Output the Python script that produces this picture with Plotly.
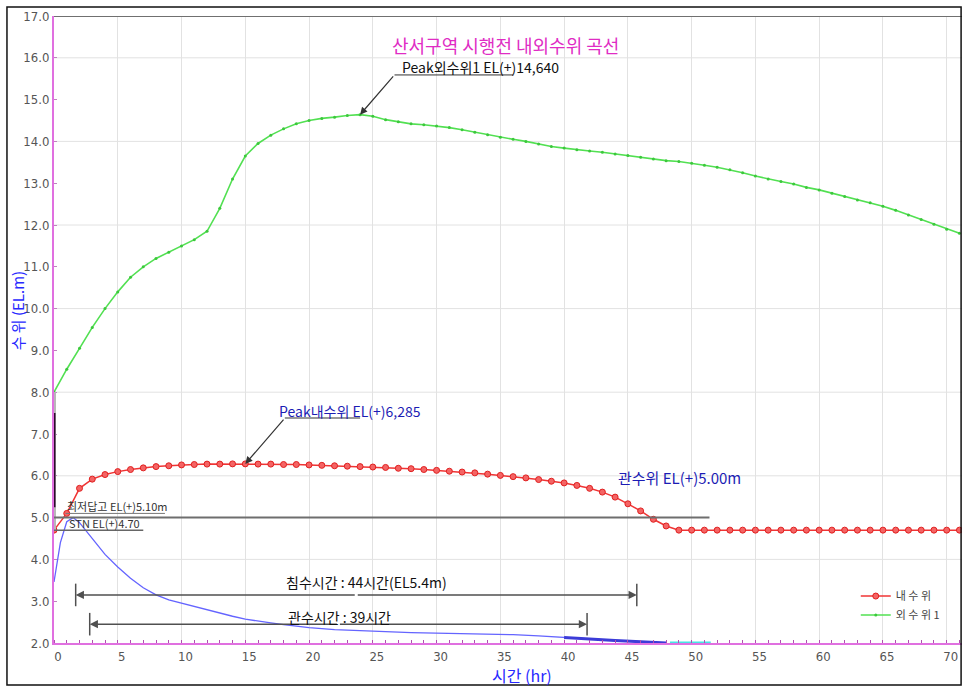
import plotly.graph_objects as go

# ---- data -------------------------------------------------------------
hours = list(range(72))

outer_level = [
    8.00, 8.55, 9.05, 9.55, 10.00, 10.40, 10.75, 11.00, 11.20, 11.35,
    11.50, 11.65, 11.85, 12.40, 13.10, 13.65, 13.95, 14.15, 14.30, 14.42,
    14.50, 14.55, 14.58, 14.62, 14.64, 14.60, 14.52, 14.47, 14.42, 14.40,
    14.37, 14.33, 14.28, 14.22, 14.16, 14.10, 14.05, 14.00, 13.94, 13.88,
    13.84, 13.80, 13.77, 13.74, 13.70, 13.66, 13.62, 13.58, 13.54, 13.52,
    13.48, 13.43, 13.38, 13.32, 13.25, 13.17, 13.10, 13.04, 12.98, 12.90,
    12.84, 12.76, 12.68, 12.60, 12.53, 12.45, 12.35, 12.24, 12.13, 12.02,
    11.90, 11.80,
]

inner_level = [
    4.70, 5.10, 5.70, 5.92, 6.03, 6.10, 6.15, 6.19, 6.22, 6.24,
    6.26, 6.27, 6.28, 6.28, 6.285, 6.285, 6.28, 6.28, 6.27, 6.27,
    6.26, 6.25, 6.24, 6.23, 6.22, 6.21, 6.20, 6.18, 6.17, 6.15,
    6.13, 6.11, 6.09, 6.07, 6.04, 6.01, 5.98, 5.95, 5.91, 5.87,
    5.83, 5.77, 5.70, 5.61, 5.49, 5.33, 5.16, 4.96, 4.80, 4.70,
    4.70, 4.70, 4.70, 4.70, 4.70, 4.70, 4.70, 4.70, 4.70, 4.70,
    4.70, 4.70, 4.70, 4.70, 4.70, 4.70, 4.70, 4.70, 4.70, 4.70,
    4.70, 4.70,
]

drain_hours = [0, 0.5, 1, 1.5, 2, 3, 4, 5, 6, 7, 8, 9, 10, 11, 12, 13, 14,
               15, 16, 17, 18, 19, 20, 22, 24, 26, 28, 30, 32, 34, 36, 38,
               40, 42, 44, 46, 48]
drain_level = [3.46, 4.40, 4.90, 5.00, 4.88, 4.50, 4.12, 3.82, 3.55, 3.32,
               3.15, 3.03, 2.95, 2.88, 2.80, 2.72, 2.64, 2.57, 2.52, 2.48,
               2.44, 2.40, 2.37, 2.32, 2.29, 2.27, 2.25, 2.24, 2.23, 2.22,
               2.20, 2.17, 2.13, 2.09, 2.06, 2.03, 2.00]
drain_tail_from = 40          # heavier stroke from this hour on
floor_hours = [48.3, 51.5]    # level resting on the channel floor
floor_level = [2.0, 2.0]

x_ticks = list(range(0, 71, 5))
y_ticks = list(range(2, 18))
y_ticklabels = [f"{v:.1f}" for v in y_ticks]
y_grid = [4, 6, 8, 10, 12, 14, 16]

peak_outer = (24, 14.640)
peak_inner = (15, 6.285)
gwansu_level = 5.00
gwansu_line_end = 51.4
lowest_paddy = 5.10
stn_level = 4.70
flood_level = 5.4
flood_span = (1.7, 45.7)
gwansu_span = (2.8, 41.8)

X_MAX = 71.2

# ---- figure -----------------------------------------------------------
fig = go.Figure()

fig.add_trace(go.Scatter(
    x=hours, y=inner_level, name="내 수 위", mode="lines+markers",
    line=dict(color="#f03434", width=1.5),
    marker=dict(symbol="circle", size=6, color="#f46464",
                line=dict(color="#e02020", width=1)),
))
fig.add_trace(go.Scatter(
    x=hours, y=outer_level, name="외 수 위 1", mode="lines+markers",
    line=dict(color="#52e052", width=1.6),
    marker=dict(size=3, color="#3cc83c"),
))

# drain-side level (no legend entry)
fig.add_trace(go.Scatter(
    x=drain_hours, y=drain_level, mode="lines", showlegend=False,
    line=dict(color="#6464ff", width=1.3), hoverinfo="skip",
))
tail = [(h, v) for h, v in zip(drain_hours, drain_level) if h >= drain_tail_from]
fig.add_trace(go.Scatter(
    x=[h for h, _ in tail], y=[v for _, v in tail], mode="lines", showlegend=False,
    line=dict(color="#3c3cd8", width=3), hoverinfo="skip",
))
fig.add_trace(go.Scatter(
    x=floor_hours, y=floor_level, mode="lines", showlegend=False,
    line=dict(color="#48e4e4", width=3), hoverinfo="skip",
))

shapes = []
# horizontal grid every 2 m
for g in y_grid:
    shapes.append(dict(type="line", xref="paper", x0=0, x1=1, yref="y", y0=g, y1=g,
                       line=dict(color="#e2e2e2", width=1), layer="below"))
# top border of the plot
shapes.append(dict(type="line", xref="paper", x0=0, x1=1, yref="y", y0=17, y1=17,
                   line=dict(color="#707070", width=2)))
# marks on the left axis
shapes.append(dict(type="line", x0=0, x1=0, y0=stn_level, y1=8.0,
                   line=dict(color="#b8b8b8", width=4)))
shapes.append(dict(type="line", x0=0, x1=0, y0=5.25, y1=7.5,
                   line=dict(color="#2a0a2a", width=3)))
# reference levels
shapes.append(dict(type="line", x0=0, x1=gwansu_line_end, y0=gwansu_level, y1=gwansu_level,
                   line=dict(color="#6e6e6e", width=2)))
shapes.append(dict(type="line", x0=0, x1=7.0, y0=stn_level, y1=stn_level,
                   line=dict(color="#666666", width=1.5)))
shapes.append(dict(type="line", x0=0.9, x1=8.7, y0=lowest_paddy, y1=lowest_paddy,
                   line=dict(color="#777777", width=1)))
# peak leader underlines
shapes.append(dict(type="line", x0=26.7, x1=36.0, y0=15.59, y1=15.59,
                   line=dict(color="#333333", width=1)))
shapes.append(dict(type="line", x0=18.1, x1=24.0, y0=7.38, y1=7.38,
                   line=dict(color="#777777", width=1.5)))
# duration brackets: end ticks
for (s, e), yb in ((flood_span, 3.15), (gwansu_span, 2.45)):
    for xe in (s, e):
        shapes.append(dict(type="line", x0=xe, x1=xe, y0=yb - 0.27, y1=yb + 0.27,
                           line=dict(color="#505050", width=1.5)))
# outer frame
shapes.append(dict(type="rect", xref="paper", yref="paper",
                   x0=-0.0518, x1=0.999, y0=-0.067, y1=1.0144,
                   line=dict(color="#111111", width=1.5)))

kr = "Noto Sans CJK KR, sans-serif"
ann = []
ann.append(dict(text="산서구역 시행전 내외수위 곡선", xref="paper", yref="paper",
                x=0.497, y=0.954, xanchor="center", yanchor="middle", showarrow=False,
                font=dict(family=kr, size=18, color="#e02cc4")))
ann.append(dict(text="시간 (hr)", xref="paper", yref="paper", x=0.515, y=-0.051,
                xanchor="center", yanchor="middle",
                showarrow=False, font=dict(family=kr, size=16, color="#2828ff")))
ann.append(dict(text="수 위 (EL.m)", xref="paper", yref="paper", x=-0.040, y=0.53,
                xanchor="center", yanchor="middle",
                textangle=-90, showarrow=False,
                font=dict(family=kr, size=15, color="#2828ff")))

# peak labels and arrows
ann.append(dict(text=f"Peak외수위1 EL(+){peak_outer[1]:.3f}".replace(".", ","),
                x=27.1, y=15.78, xanchor="left", yanchor="middle", showarrow=False,
                font=dict(family=kr, size=14, color="#111111")))
ann.append(dict(text="", x=peak_outer[0], y=peak_outer[1], ax=26.7, ay=15.59,
                axref="x", ayref="y", showarrow=True, arrowhead=2, arrowsize=1.2,
                arrowwidth=1.2, arrowcolor="#333333"))
ann.append(dict(text=f"Peak내수위 EL(+){peak_inner[1]:.3f}".replace(".", ","),
                x=17.5, y=7.55, xanchor="left", yanchor="middle", showarrow=False,
                font=dict(family=kr, size=14, color="#1c1cb4")))
ann.append(dict(text="", x=peak_inner[0], y=peak_inner[1], ax=18.1, ay=7.38,
                axref="x", ayref="y", showarrow=True, arrowhead=2, arrowsize=1.2,
                arrowwidth=1.2, arrowcolor="#333333"))

ann.append(dict(text=f"관수위 EL(+){gwansu_level:.2f}m", x=44.1, y=5.95,
                xanchor="left", yanchor="middle", showarrow=False,
                font=dict(family=kr, size=15, color="#1c1cb4")))
ann.append(dict(text=f"최저답고 EL(+){lowest_paddy:.2f}m", x=0.85, y=5.27,
                xanchor="left", yanchor="middle", showarrow=False,
                font=dict(family=kr, size=11, color="#333333")))
ann.append(dict(text=f"STN EL(+){stn_level:.2f}", x=1.0, y=4.86,
                xanchor="left", yanchor="middle", showarrow=False,
                font=dict(family=kr, size=11, color="#333333")))

# duration brackets
brackets = (
    (flood_span, 3.15,
     f"침수시간 : {flood_span[1] - flood_span[0]:.0f}시간(EL{flood_level}m)", 24.5, 3.45),
    (gwansu_span, 2.45,
     f"관수시간 : {gwansu_span[1] - gwansu_span[0]:.0f}시간", 22.4, 2.63),
)
for (s, e), yb, label, tx, ty in brackets:
    mid = (s + e) / 2
    for xe in (s, e):
        ann.append(dict(text="", x=xe, y=yb, ax=mid, ay=yb, axref="x", ayref="y",
                        showarrow=True, arrowhead=2, arrowsize=1.1, arrowwidth=1.5,
                        arrowcolor="#505050"))
    ann.append(dict(text=label, x=tx, y=ty, yanchor="middle", showarrow=False,
                    font=dict(family=kr, size=14, color="#111111")))

tickfont = dict(family="Liberation Sans Narrow, DejaVu Sans Condensed, sans-serif",
                size=13, color="#555555")

fig.update_layout(
    width=965, height=688,
    margin=dict(l=54, r=3, t=16, b=45),
    paper_bgcolor="white", plot_bgcolor="white",
    shapes=shapes, annotations=ann,
    showlegend=True,
    legend=dict(x=0.883, y=0.098, xanchor="left", yanchor="top",
                bgcolor="rgba(0,0,0,0)", font=dict(family=kr, size=11, color="#444444"),
                itemwidth=30, tracegroupgap=0),
    xaxis=dict(range=[0, X_MAX], tickvals=x_ticks, showgrid=True, gridcolor="#e2e2e2",
               gridwidth=1, zeroline=False, showline=True, linecolor="#e070e0",
               linewidth=2, ticks="", tickfont=tickfont, ticklabelshift=4,
               minor=dict(dtick=1, ticks="inside", ticklen=3, tickcolor="#b050b0",
                          showgrid=False)),
    yaxis=dict(range=[2, 17], tickvals=y_ticks, ticktext=y_ticklabels, showgrid=False,
               zeroline=False, showline=True, linecolor="#e070e0", linewidth=2,
               ticks="inside", ticklen=3, tickcolor="#c080c0", tickfont=tickfont),
)

fig.write_html("out.html")
